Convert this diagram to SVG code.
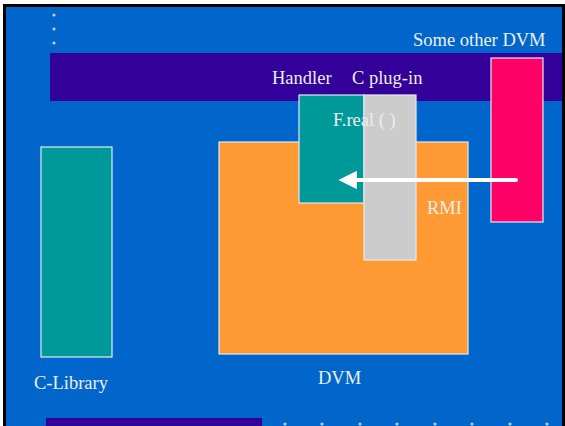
<svg xmlns="http://www.w3.org/2000/svg" width="565" height="426" viewBox="0 0 565 426">
  <style>
    .lbl { font-family: "Liberation Serif", "Times New Roman", serif; font-size: 18.5px; fill: #eeeeee; }
    .box { stroke: #e8e8f0; stroke-width: 1.2; }
    .dot { fill: #c8c8d0; }
  </style>
  <defs>
    <marker id="head" viewBox="0 0 10 10" refX="1" refY="5" markerWidth="4.6" markerHeight="4.6" markerUnits="strokeWidth" orient="auto-start-reverse">
      <path d="M0,0 L10,5 L0,10 z" fill="#ffffff"/>
    </marker>
  </defs>

  <!-- slide frame -->
  <rect x="0" y="0" width="565" height="426" fill="#ffffff"/>
  <rect x="3" y="4" width="562" height="424" fill="#000000"/>
  <rect x="6" y="7" width="556" height="421" fill="#0066cc"/>

  <!-- decorative bands and dots -->
  <rect x="50" y="53" width="512" height="48" fill="#330099"/>
  <rect x="46" y="418" width="216" height="10" fill="#330099"/>
  <g class="dot">
    <circle cx="54" cy="15" r="1.6"/>
    <circle cx="54" cy="29" r="1.6"/>
    <circle cx="54" cy="43" r="1.6"/>
    <circle cx="285" cy="424" r="1.6"/>
    <circle cx="322" cy="424" r="1.6"/>
    <circle cx="360" cy="424" r="1.6"/>
    <circle cx="397" cy="424" r="1.6"/>
    <circle cx="435" cy="424" r="1.6"/>
    <circle cx="472" cy="424" r="1.6"/>
    <circle cx="510" cy="424" r="1.6"/>
    <circle cx="547" cy="424" r="1.6"/>
  </g>

  <g id="other-dvm">
    <rect class="box" x="491" y="58" width="52" height="164" fill="#ff0066"/>
    <text class="lbl" x="413" y="46">Some other DVM</text>
  </g>

  <g id="c-library">
    <rect class="box" x="41" y="147" width="71" height="210" fill="#009999"/>
    <text class="lbl" x="34" y="389">C-Library</text>
  </g>

  <g id="dvm">
    <rect class="box" x="219" y="142" width="249" height="212" fill="#ff9933"/>
    <text class="lbl" x="318" y="384">DVM</text>
  </g>

  <g id="handler">
    <rect class="box" x="299" y="95" width="65" height="108" fill="#009999"/>
    <text class="lbl" x="272" y="84">Handler</text>
  </g>

  <g id="c-plugin">
    <rect class="box" x="364" y="95" width="52" height="165" fill="#cccccc"/>
    <text class="lbl" x="352" y="84">C plug-in</text>
  </g>

  <g id="f-real">
    <text class="lbl" x="333" y="126">F.real ( )</text>
  </g>

  <g id="rmi">
    <text class="lbl" x="427" y="214">RMI</text>
  </g>

  <g id="connectors">
    <line x1="516" y1="180" x2="355" y2="180" stroke="#ffffff" stroke-width="4" stroke-linecap="round" marker-end="url(#head)"/>
  </g>
</svg>
